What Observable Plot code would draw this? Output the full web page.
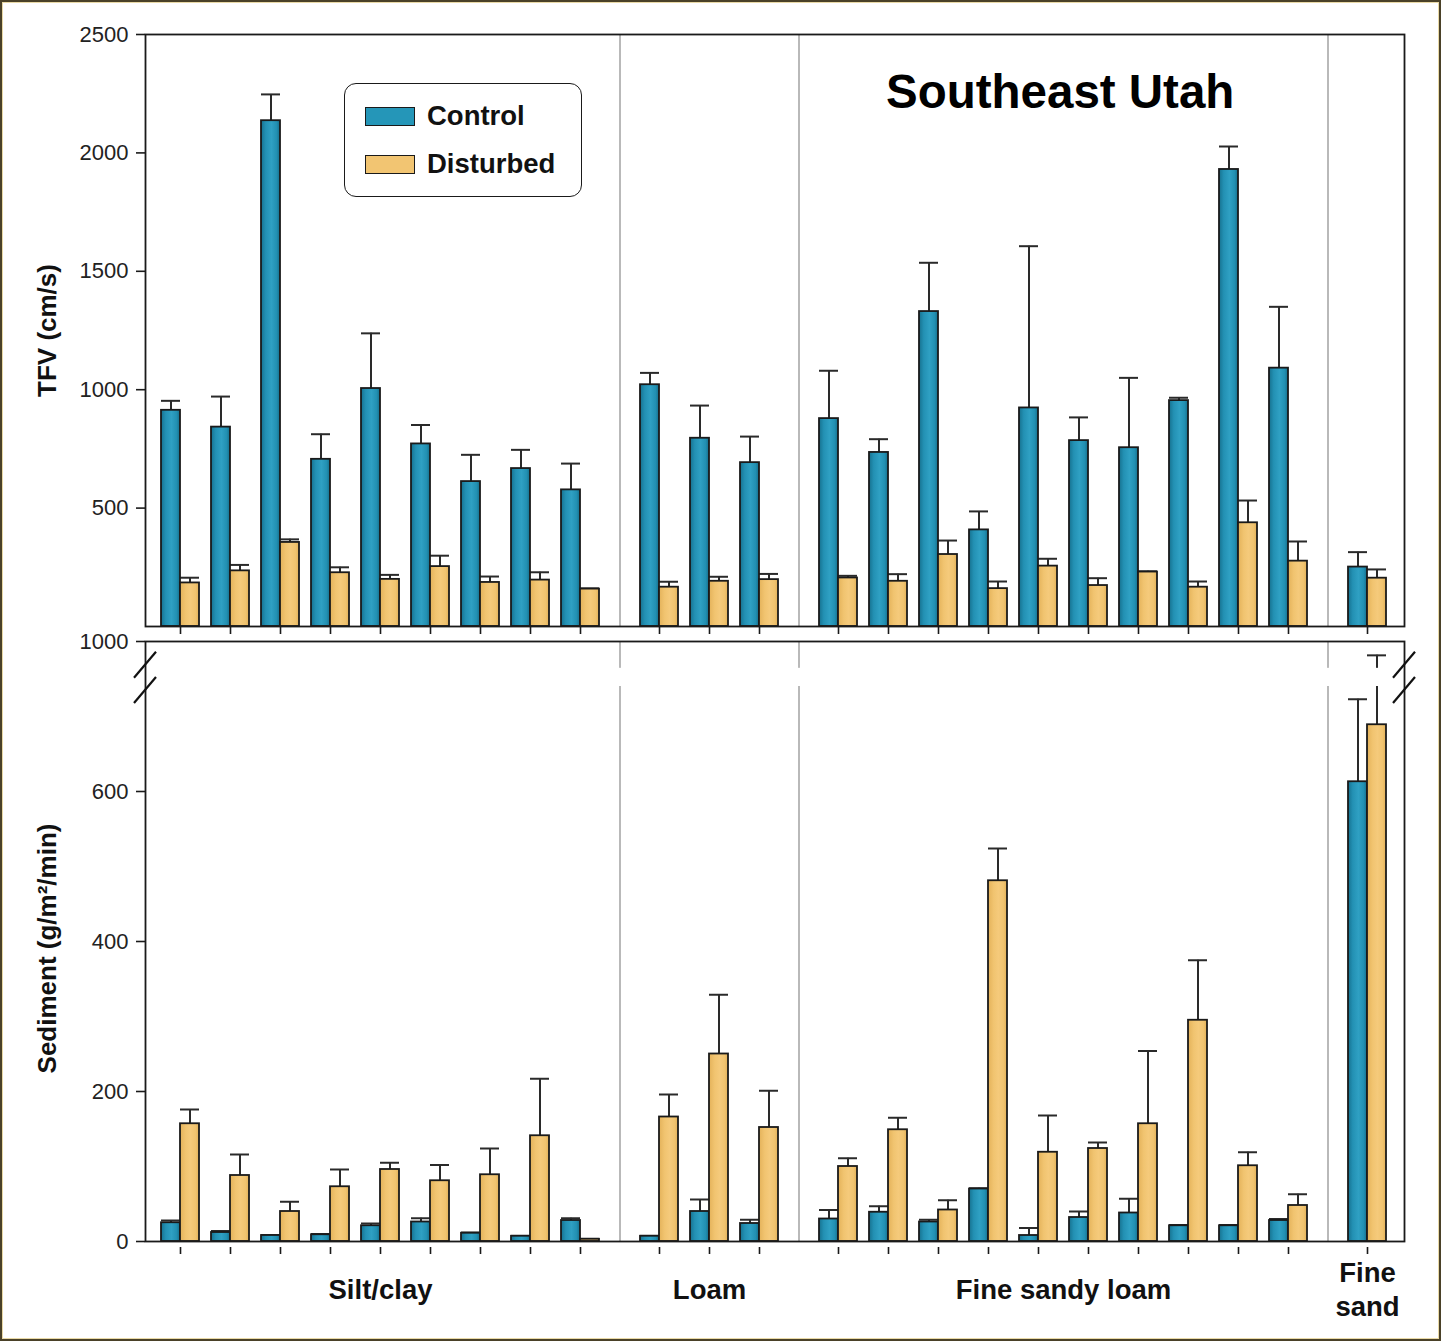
<!DOCTYPE html>
<html>
<head>
<meta charset="utf-8">
<script src="https://cdn.jsdelivr.net/npm/d3@7"></script>
<script src="https://cdn.jsdelivr.net/npm/@observablehq/plot@0.6"></script>
<style>
  body { margin: 0; background: #fff; }
  #wrap { position: relative; width: 1441px; height: 1341px; overflow: hidden; background: #fff;
          font-family: "Liberation Sans", Arial, Helvetica, sans-serif; }
  #top, #bottom { position: absolute; left: 0; }
  #top { top: 0; }
  #bottom { top: 636px; }
  #wrap svg [aria-label*="axis"] line,
  #wrap svg [aria-label*="axis tick"] path { stroke-width: 1.6px; stroke: #1a1a1a; }
  #bottom svg [aria-label^="x-axis"] line,
  #bottom svg [aria-label^="x-axis"] path { stroke-dasharray: 0 6 7; }
  #border { position: absolute; left: 0; top: 0; width: 1441px; height: 1341px; box-sizing: border-box;
            border: 2px solid #4a4128; outline: 1px solid #e9d9a6; outline-offset: -3px; pointer-events: none; }
  #legend { position: absolute; left: 344px; top: 83px; width: 238px; height: 114px; box-sizing: border-box;
            border: 1.8px solid #1a1a1a; border-radius: 12px; background: #fff; }
  .item { position: absolute; left: 20px; height: 30px; display: flex; align-items: center; }
  .sw { width: 50px; height: 19px; box-sizing: border-box; border: 1.6px solid #1a1a1a; margin-right: 12px; }
  .lab { font-weight: bold; font-size: 27.5px; color: #111; }
  #title { position: absolute; left: 886px; top: 64px; font-weight: bold; font-size: 47.5px; color: #000; white-space: nowrap; }
</style>
</head>
<body>
<svg width="0" height="0" style="position:absolute">
  <defs>
    <linearGradient id="gC" x1="0" x2="1" y1="0" y2="0">
      <stop offset="0" stop-color="#16718f"/>
      <stop offset="0.25" stop-color="#2391b4"/>
      <stop offset="0.55" stop-color="#2fa0c3"/>
      <stop offset="0.82" stop-color="#2290b2"/>
      <stop offset="1" stop-color="#156e8b"/>
    </linearGradient>
    <linearGradient id="gD" x1="0" x2="1" y1="0" y2="0">
      <stop offset="0" stop-color="#e4b25a"/>
      <stop offset="0.3" stop-color="#f1c470"/>
      <stop offset="0.55" stop-color="#f5ca7b"/>
      <stop offset="0.82" stop-color="#f0c36f"/>
      <stop offset="1" stop-color="#e2b058"/>
    </linearGradient>
  </defs>
</svg>
<div id="wrap">
  <div id="top"></div>
  <div id="bottom"></div>
  <div id="legend"></div>
  <div id="title"></div>
  <div id="border"></div>
</div>
<script>
// ---------------- data ----------------
const title = "Southeast Utah";
const series = ["Control", "Disturbed"];
const seriesFill = ["url(#gC)", "url(#gD)"];
const seriesSwatch = ["#2596b8", "#f2c572"];

const groups = ["Silt/clay", "Loam", "Fine sandy loam", "Fine sand"];
const groupLabels = ["Silt/clay", "Loam", "Fine sandy loam", "Fine\nsand"];
// group index of each of the 23 sites
const siteGroup = [0,0,0,0,0,0,0,0,0, 1,1,1, 2,2,2,2,2,2,2,2,2,2, 3];

// TFV (cm/s): means and standard errors
const tfvControl      = [913, 842, 2136, 706, 1005, 771, 612, 667, 577,  1021, 795, 692,  878, 735, 1330, 408, 923, 785, 755, 954, 1930, 1091,  251];
const tfvControlSE    = [ 40, 129,  111, 106,  233,  80, 113,  79, 111,    50, 138, 110,  202,  56,  206,  78, 683,  98, 295,  12,   97,  259,   63];
const tfvDisturbed    = [184, 235,  355, 227,  199, 253, 186, 196, 158,   166, 191, 198,  205, 191,  304, 160, 255, 173, 230, 166,  438,  276,  204];
const tfvDisturbedSE  = [ 22,  25,   13,  23,   19,  46,  25,  33,   3,    23,  19,  24,    9,  30,   59,  30,  31,  31,   3,  24,   94,   83,   37];

// Sediment (g/m2/min): means and standard errors
const sedControl      = [ 25,  12,   8,   9,  21,  26,  11,   7,  28,    7,  40,  24,   30,  39,  26,  70,   8,  32,  38,  21,  21,  28,  613];
const sedControlSE    = [  3,   2, 0.5,   1,   3,   5,   1, 0.5,   3,  0.5,  16,   5,   12,   8,   3,   1,  10,   8,  19,   1,   1,   2,  110];
const sedDisturbed    = [157,  88,  40,  73,  96,  81,  89, 141,   3,  166, 250, 152,  100, 149,  42, 481, 119, 124, 157, 295, 101,  48,  689];
const sedDisturbedSE  = [ 19,  28,  13,  23,   9,  21,  35,  76, 0.5,   30,  79,  49,   11,  16,  13,  43,  49,   8,  97,  80,  18,  15,  231];

const tfvTicks = [500, 1000, 1500, 2000, 2500];
const sedTicks = [0, 200, 400, 600, 1000];
const sedBreak = [740, 845];   // scale break on the sediment axis

// ---------------- layout helpers ----------------
const FONT = '"Liberation Sans", Arial, Helvetica, sans-serif';
const GAP = 0.58;         // extra space between soil groups (in site units)
const BAR = 0.38;         // bar width (in site units)
const pos = siteGroup.map((g, i) => i + g * GAP);
const xDomain = [-0.7, 24.48];
const separators = d3.range(1, groups.length).map(g => {
  const last = d3.max(pos.filter((p, i) => siteGroup[i] === g - 1));
  const first = d3.min(pos.filter((p, i) => siteGroup[i] === g));
  return (last + first) / 2;
});
const groupCenters = groups.map((name, g) => ({
  label: groupLabels[g],
  x: d3.mean(pos.filter((p, i) => siteGroup[i] === g))
}));

function rows(control, controlSE, disturbed, disturbedSE) {
  const out = [];
  pos.forEach((p, i) => {
    out.push({series: 0, x1: p - BAR, x2: p, v: control[i], e: control[i] + controlSE[i]});
    out.push({series: 1, x1: p, x2: p + BAR, v: disturbed[i], e: disturbed[i] + disturbedSE[i]});
  });
  return out;
}
const tfvRows = rows(tfvControl, tfvControlSE, tfvDisturbed, tfvDisturbedSE);
const sedRows = rows(sedControl, sedControlSE, sedDisturbed, sedDisturbedSE);

function barMarks(data) {
  return [
    Plot.ruleX(data, {x: d => (d.x1 + d.x2) / 2, y1: d => d.v, y2: d => d.e, stroke: "#2a2a2a", strokeWidth: 2}),
    Plot.ruleY(data, {x1: d => d.x1, x2: d => d.x2, y: d => d.e, stroke: "#2a2a2a", strokeWidth: 2}),
    Plot.rect(data.filter(d => d.series === 0), {x1: "x1", x2: "x2", y1: () => 0, y2: "v",
      fill: seriesFill[0], stroke: "#1a1a1a", strokeWidth: 1.8}),
    Plot.rect(data.filter(d => d.series === 1), {x1: "x1", x2: "x2", y1: () => 0, y2: "v",
      fill: seriesFill[1], stroke: "#1a1a1a", strokeWidth: 1.8})
  ];
}

const baseStyle = {fontFamily: FONT, fontSize: "22px", color: "#222", background: "transparent", overflow: "visible"};

// ---------------- top panel: TFV ----------------
const topPlot = Plot.plot({
  width: 1441, height: 636,
  marginTop: 34, marginBottom: 10, marginLeft: 145, marginRight: 37,
  style: baseStyle,
  x: {domain: xDomain, ticks: pos, tickFormat: () => "", tickSize: 8, label: null},
  y: {domain: [0, 2500], ticks: tfvTicks, tickFormat: d => String(d), tickSize: 9, tickPadding: 8, label: null},
  marks: [
    Plot.ruleX(separators, {x: d => d, stroke: "#b9b9b9", strokeWidth: 2}),
    ...barMarks(tfvRows),
    Plot.frame({stroke: "#1a1a1a", strokeWidth: 1.8}),
    Plot.text(["TFV (cm/s)"], {text: d => d, frameAnchor: "left", textAnchor: "middle", lineAnchor: "middle",
      rotate: -90, dx: -98, fontSize: 26, fontWeight: "bold", fill: "#111"})
  ]
});
document.getElementById("top").appendChild(topPlot);

// ---------------- bottom panel: Sediment (broken axis) ----------------
const bottomH = 705, bTop = 5, bBottom = 100;
const yLow = bottomH - bBottom;                 // pixel of 0
const yBreak = yLow - sedBreak[0] * 0.75;       // pixel of the lower break value
function breakMarks(index, scales, values, dims) {
  const y = typeof scales.y === "function" ? scales.y
    : d3.scaleLinear([0, sedBreak[0], 1000], [yLow, yBreak, bTop]);
  const ya = y(sedBreak[0]), yb = y(sedBreak[1]);
  const g = d3.create("svg:g").attr("stroke", "#111").attr("stroke-width", 2.2);
  const xl = dims.marginLeft, xr = dims.width - dims.marginRight;
  for (const x0 of [xl, xr]) {
    for (const yc of [yb - 3, ya + 4]) {
      g.append("line").attr("x1", x0 - 11).attr("y1", yc + 13).attr("x2", x0 + 11).attr("y2", yc - 13);
    }
  }
  return g.node();
}
const bottomPlot = Plot.plot({
  width: 1441, height: bottomH,
  marginTop: bTop, marginBottom: bBottom, marginLeft: 145, marginRight: 37,
  style: baseStyle,
  x: {domain: xDomain, ticks: pos, tickFormat: () => "", tickSize: 13, label: null},
  y: {type: "linear", domain: [0, sedBreak[0], 1000], range: [yLow, yBreak, bTop],
      ticks: sedTicks, tickFormat: d => String(d), tickSize: 9, tickPadding: 8, label: null},
  marks: [
    Plot.ruleX(separators, {x: d => d, stroke: "#b9b9b9", strokeWidth: 2}),
    ...barMarks(sedRows),
    Plot.rect([sedBreak], {x1: () => xDomain[0], x2: () => xDomain[1], y1: d => d[0], y2: d => d[1], fill: "white"}),
    Plot.frame({stroke: "#1a1a1a", strokeWidth: 1.8}),
    breakMarks,
    Plot.text(groupCenters, {x: "x", text: "label", frameAnchor: "bottom", lineAnchor: "middle", dy: 47, lineHeight: 1.24,
      fontSize: 27.5, fontWeight: "bold", fill: "#111"}),
    Plot.text(["Sediment (g/m\u00b2/min)"], {text: d => d, frameAnchor: "left", textAnchor: "middle", lineAnchor: "middle",
      rotate: -90, dx: -98, dy: 7, fontSize: 26, fontWeight: "bold", fill: "#111"})
  ]
});
document.getElementById("bottom").appendChild(bottomPlot);

// ---------------- legend & title ----------------
const legend = d3.select("#legend");
series.forEach((s, i) => {
  const item = legend.append("div").attr("class", "item").style("top", (i === 0 ? 17 : 65) + "px");
  item.append("div").attr("class", "sw").style("background", seriesSwatch[i]);
  item.append("div").attr("class", "lab").text(s);
});
document.getElementById("title").textContent = title;
</script>
</body>
</html>
